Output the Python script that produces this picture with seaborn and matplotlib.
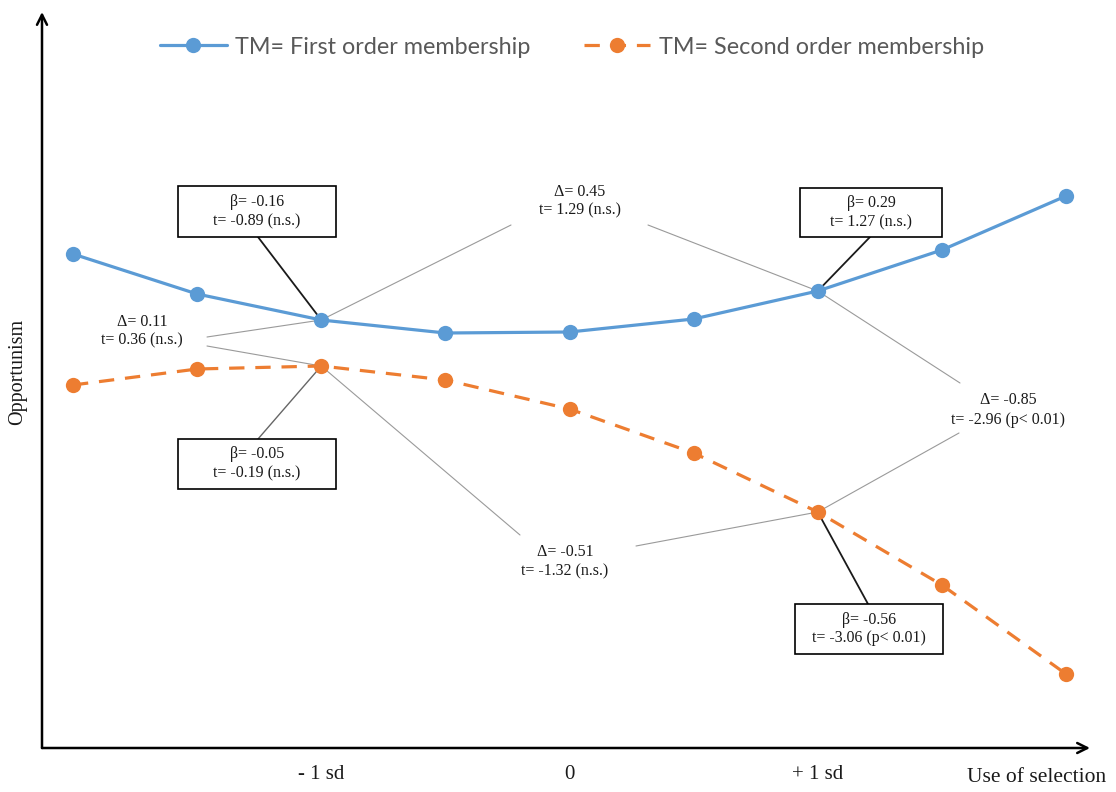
import matplotlib
matplotlib.use("Agg")
import numpy as np
import pandas as pd
import matplotlib.pyplot as plt
import seaborn as sns
from matplotlib.patches import Rectangle
from matplotlib.lines import Line2D

# ---------------- data ----------------
positions = [0, 1, 2, 3, 4, 5, 6, 7, 8]
first_order = [4.94, 4.54, 4.28, 4.15, 4.16, 4.29, 4.57, 4.98, 5.52]
second_order = [3.63, 3.79, 3.82, 3.68, 3.39, 2.95, 2.36, 1.63, 0.74]
series_names = ["TM= First order membership", "TM= Second order membership"]
tick_positions = [2, 4, 6]
tick_labels = ["- 1 sd", "0", "+ 1 sd"]
x_label = "Use of selection"
y_label = "Opportunism"

beta_labels = ["β= -0.16\nt= -0.89 (n.s.)", "β= 0.29\nt= 1.27 (n.s.)",
               "β= -0.05\nt= -0.19 (n.s.)", "β= -0.56\nt= -3.06 (p< 0.01)"]
delta_labels = ["Δ= 0.11\nt= 0.36 (n.s.)", "Δ= 0.45\nt= 1.29 (n.s.)",
                "Δ= -0.85\nt= -2.96 (p< 0.01)", "Δ= -0.51\nt= -1.32 (n.s.)"]

BLUE = "#5B9BD5"
ORANGE = "#ED7D31"

df = pd.DataFrame({
    "x": positions * 2,
    "y": first_order + second_order,
    "series": [series_names[0]] * len(positions) + [series_names[1]] * len(positions),
})

sns.set_theme(style="white")
plt.rcParams["font.family"] = ["Liberation Serif", "DejaVu Serif"]

fig = plt.figure(figsize=(11.16, 7.92), dpi=100)
ax = fig.add_axes([42 / 1116, (792 - 748) / 792, (1090 - 42) / 1116, (748 - 12) / 792])

# pixel -> data helper for annotation layout
def P(px, py):
    return (px - 73) / 124.125, (748 - py) / 100.0

x0, _ = P(42, 0)
x1, _ = P(1090, 0)
ax.set_xlim(x0, x1)
ax.set_ylim(0, (748 - 12) / 100.0)

sns.lineplot(data=df[df.series == series_names[0]], x="x", y="y", ax=ax, color=BLUE,
             lw=2.3, marker="o", markersize=11, markeredgewidth=0, zorder=6, legend=False)
sns.lineplot(data=df[df.series == series_names[1]], x="x", y="y", ax=ax, color=ORANGE,
             lw=2.3, marker="o", markersize=11, markeredgewidth=0, zorder=6, legend=False)
ax.lines[1].set_dashes([4.8, 3.4])

for s in ax.spines.values():
    s.set_visible(False)
ax.set_yticks([])
ax.set_xticks(tick_positions)
ax.set_xticklabels(tick_labels, fontsize=15, color="#1a1a1a")
ax.tick_params(axis="x", length=0, pad=12)
ax.set_xlabel("")
ax.set_ylabel("")

# axis arrows
arrow_kw = dict(arrowstyle="->", lw=1.8, color="black", mutation_scale=18, shrinkA=0, shrinkB=0)
ax.annotate("", xy=(0, 1), xytext=(0, 0), xycoords="axes fraction", arrowprops=arrow_kw,
            annotation_clip=False)
ax.annotate("", xy=(1, 0), xytext=(0, 0), xycoords="axes fraction", arrowprops=arrow_kw,
            annotation_clip=False)

fig.text(1037 / 1116, 1 - 778 / 792, x_label, ha="center", va="center", fontsize=15.5, color="#1a1a1a")
fig.text(18 / 1116, 1 - 372 / 792, y_label, ha="center", va="center", rotation=90,
         fontsize=14.5, color="#1a1a1a")

# ---------- annotation helpers ----------
def box(label, left, top, right, bottom, color_text="#1a1a1a"):
    bx, by = P(left, bottom)
    tx, ty = P(right, top)
    ax.add_patch(Rectangle((bx, by), tx - bx, ty - by, facecolor="white", edgecolor="black",
                           lw=1.2, zorder=8))
    cx, cy = P((left + right) / 2, (top + bottom) / 2)
    ax.text(cx, cy, label, ha="center", va="center", fontsize=11.5, color=color_text,
            zorder=9, linespacing=1.25)

def leader(p_from, p_to_data, color, lw):
    fx, fy = P(*p_from)
    ax.add_line(Line2D([fx, p_to_data[0]], [fy, p_to_data[1]], color=color, lw=lw, zorder=4))

def dtext(label, cx, cy):
    x, y = P(cx, cy)
    ax.text(x, y, label, ha="center", va="center", fontsize=11.5, color="#1a1a1a",
            zorder=9, linespacing=1.25)

b2 = (positions[2], first_order[2])
b6 = (positions[6], first_order[6])
o2 = (positions[2], second_order[2])
o6 = (positions[6], second_order[6])

GRAY = "#9a9a9a"
# delta leaders
leader((207, 337), b2, GRAY, 0.8)
leader((207, 346), o2, GRAY, 0.8)
leader((511, 225), b2, GRAY, 0.8)
leader((648, 225), b6, GRAY, 0.8)
leader((960, 383), b6, GRAY, 0.8)
leader((959, 433), o6, GRAY, 0.8)
leader((520, 535), o2, GRAY, 0.8)
leader((636, 546), o6, GRAY, 0.8)

dtext(delta_labels[0], 142, 331)
dtext(delta_labels[1], 580, 201)
dtext(delta_labels[2], 1008, 410)
dtext(delta_labels[3], 565, 562)

# beta boxes + leaders
leader((258, 237), b2, "#1a1a1a", 1.3)
leader((870, 237), b6, "#1a1a1a", 1.3)
leader((258, 439), o2, "#666666", 1.0)
leader((868, 604), o6, "#1a1a1a", 1.3)
box(beta_labels[0], 178, 186, 336, 237)
box(beta_labels[1], 800, 188, 942, 237)
box(beta_labels[2], 178, 439, 336, 489)
box(beta_labels[3], 795, 604, 943, 654)

# legend
handles = [
    Line2D([], [], color=BLUE, lw=2.3, marker="o", markersize=11, markeredgewidth=0),
    Line2D([], [], color=ORANGE, lw=2.3, marker="o", markersize=11, markeredgewidth=0,
           dashes=[4.8, 3.4]),
]
leg = fig.legend(handles, series_names, loc="center", bbox_to_anchor=(572 / 1116, 1 - 47 / 792),
                 ncol=2, frameon=False, handlelength=2.85, handletextpad=0.35, columnspacing=2.3,
                 prop={"family": "Lato", "size": 16.8})
for t in leg.get_texts():
    t.set_color("#595959")

fig.savefig("out.png", dpi=100)
